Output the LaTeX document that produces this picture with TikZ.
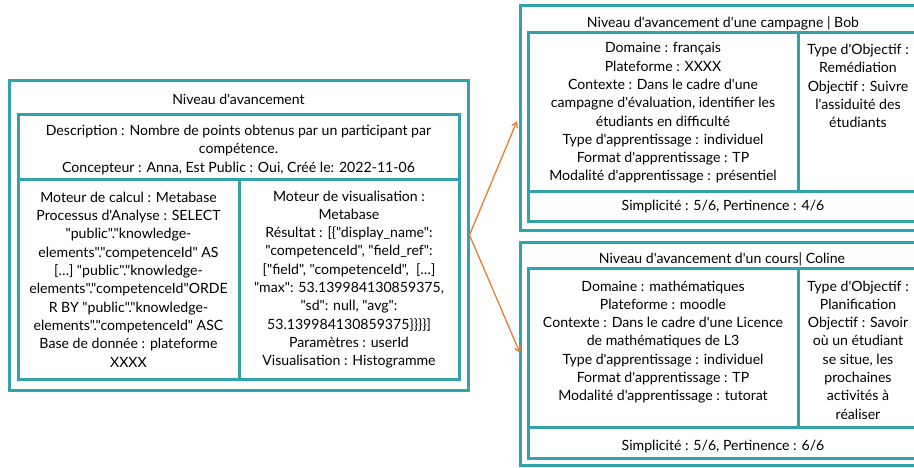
\documentclass[tikz,border=0pt]{standalone}
\usepackage{fontspec}
\setmainfont{Lato}[Ligatures=TeXOff]
\usetikzlibrary{arrows.meta}
\definecolor{teal1}{HTML}{31A3A9}
\definecolor{orng}{HTML}{ED7D31}
\begin{document}
\begin{tikzpicture}[x=1pt,y=-1pt,
  box/.style={draw=teal1, line width=3pt, rectangle, inner sep=0pt},
  txt/.style={align=center, inner sep=0pt, font=\fontsize{14.1}{18.3}\selectfont},
  arr/.style={draw=orng, line width=1.3pt, -{Straight Barb[length=5pt,width=6pt]}}]
\useasboundingbox (0,0) rectangle (914,467);
\clip (0,0) rectangle (914,467);
% left block
\node[box, minimum width=459pt, minimum height=310pt] (L) at (238.5,235) {};
\node[box, minimum width=441pt, minimum height=65pt] (Ldesc) at (238.5,146.5) {};
\node[box, minimum width=221pt, minimum height=200pt] (Lcalc) at (128.5,279) {};
\node[box, minimum width=220pt, minimum height=200pt] (Lvis) at (349,279) {};
\node[txt] (Ltitle) at (238.5,99) {Niveau d'avancement};
\node[txt] (Ldesct) at (238.5,150) {Description : Nombre de points obtenus par un participant par\\compétence.\\Concepteur : Anna, Est Public : Oui, Créé le: 2022-11-06};
\node[txt] (Lcalct) at (128.5,279.5) {Moteur de calcul : Metabase\\Processus d'Analyse : SELECT\\"public"."knowledge-\\elements"."competenceId" AS\\{[…]} "public"."knowledge-\\elements"."competenceId"ORDE\\R BY "public"."knowledge-\\elements"."competenceId" ASC\\Base de donnée : plateforme\\XXXX};
\node[txt] (Lvist) at (349,279.5) {Moteur de visualisation :\\Metabase\\Résultat : [\{"display\_name":\\"competenceId", "field\_ref":\\{["field", "competenceId",\ \ […]}\\"max": 53.139984130859375,\\"sd": null, "avg":\\53.139984130859375\}\}\}\}]\\Paramètres : userId\\Visualisation : Histogramme};
% right top block
\node[box, minimum width=406pt, minimum height=225pt] (A) at (723,117.5) {};
\node[box, minimum width=270pt, minimum height=159pt] (Aleft) at (663,111.5) {};
\node[box, minimum width=120pt, minimum height=159pt] (Aright) at (858,111.5) {};
\node[box, minimum width=390pt, minimum height=30pt] (Abot) at (723,206) {};
\node[txt] (Atitle) at (723,23) {Niveau d'avancement d'une campagne | Bob};
\node[txt] (Aleftt) at (663,113) {Domaine : français\\Plateforme : XXXX\\Contexte : Dans le cadre d'une\\campagne d'évaluation, identifier les\\étudiants en difficulté\\Type d'apprentissage : individuel\\Format d'apprentissage : TP\\Modalité d'apprentissage : présentiel};
\node[txt] (Arightt) at (858,86) {Type d'Objectif :\\Remédiation\\Objectif : Suivre\\l'assiduité des\\étudiants};
\node[txt] (Abott) at (723,207) {Simplicité : 5/6, Pertinence : 4/6};
% right bottom block
\node[box, minimum width=406pt, minimum height=223pt] (B) at (723,353.5) {};
\node[box, minimum width=270pt, minimum height=159pt] (Bleft) at (663,347.5) {};
\node[box, minimum width=120pt, minimum height=159pt] (Bright) at (858,347.5) {};
\node[box, minimum width=390pt, minimum height=31pt] (Bbot) at (723,442.5) {};
\node[txt] (Btitle) at (722,259) {Niveau d'avancement d'un cours| Coline};
\node[txt] (Bleftt) at (663,342) {Domaine : mathématiques\\Plateforme : moodle\\Contexte : Dans le cadre d'une Licence\\de mathématiques de L3\\Type d'apprentissage : individuel\\Format d'apprentissage : TP\\Modalité d'apprentissage : tutorat};
\node[txt] (Brightt) at (858,350) {Type d'Objectif :\\Planification\\Objectif : Savoir\\où un étudiant\\se situe, les\\prochaines\\activités à\\réaliser};
\node[txt] (Bbott) at (723,447) {Simplicité : 5/6, Pertinence : 6/6};
% arrows
\coordinate (aEnd) at (517,121);
\coordinate (bEnd) at (520,353);
\draw[arr] (L.east) -- (aEnd);
\draw[arr] (L.east) -- (bEnd);
\end{tikzpicture}
\end{document}
